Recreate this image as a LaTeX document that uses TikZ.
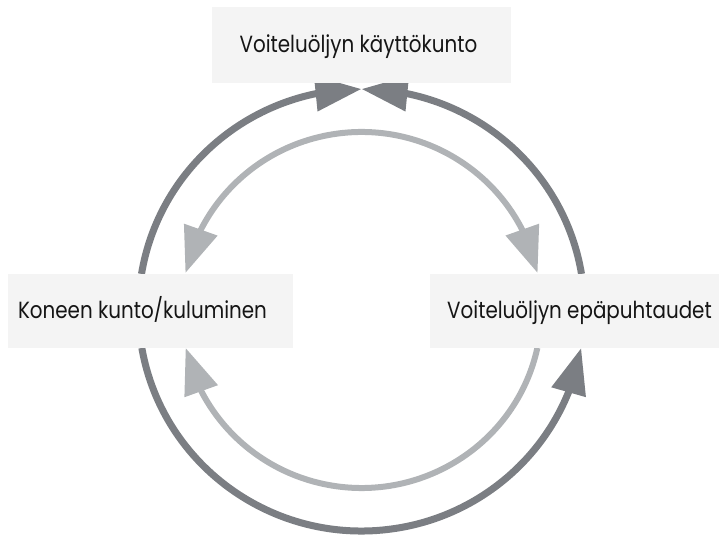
\documentclass[tikz,border=0pt]{standalone}
\usepackage{fontspec}
\newfontfamily\lblfont[FakeStretch=0.85]{Poppins}
\usetikzlibrary{arrows.meta,bending,calc}

\definecolor{ringdark}{HTML}{7B7E83}
\definecolor{ringlight}{HTML}{B0B3B6}
\definecolor{boxfill}{HTML}{F4F4F4}
\definecolor{inktext}{HTML}{151515}

\tikzset{
  tipA/.tip={Triangle[length=46pt,width=34pt,flex]},
  outerring/.style={draw=ringdark,line width=7pt},
  innerring/.style={draw=ringlight,line width=6pt},
  labelbox/.style={fill=boxfill,draw=none,inner sep=0pt},
  labeltext/.style={anchor=base,text=inktext,font=\lblfont\fontsize{23.4pt}{27pt}\selectfont,inner sep=0pt}
}

\begin{document}
\begin{tikzpicture}[x=1pt,y=1pt]
  \useasboundingbox (0,0) rectangle (719,536);

  % common centre of both rings
  \coordinate (c) at (361.5,226);

  % outer ring: two arcs meeting at the top, one along the bottom
  \draw[outerring,-tipA] (c) ++(170.6:223 and 221)
      arc[start angle=170.6,end angle=90,x radius=223,y radius=221];
  \draw[outerring,-tipA] (c) ++(9.4:223 and 221)
      arc[start angle=9.4,end angle=90,x radius=223,y radius=221];
  \draw[outerring,-tipA] (c) ++(189.9:223 and 221)
      arc[start angle=189.9,end angle=350.1,x radius=223,y radius=221];

  % inner ring: double-headed upper arc, single-headed lower arc
  \draw[innerring,tipA-tipA] (c) ++(12:180 and 178)
      arc[start angle=12,end angle=168,x radius=180,y radius=178];
  \draw[innerring,-tipA] (c) ++(347.7:180 and 178)
      arc[start angle=347.7,end angle=192.3,x radius=180,y radius=178];

  % label panels
  \node[labelbox,minimum width=299pt,minimum height=76pt] (topbox) at (361.5,491) {};
  \node[labelbox,minimum width=285pt,minimum height=74pt] (leftbox) at (150.5,225) {};
  \node[labelbox,minimum width=289pt,minimum height=74pt] (rightbox) at (574.5,225) {};

  \node[labeltext] (toplabel) at (358.5,483) {Voiteluöljyn käyttökunto};
  \node[labeltext] (leftlabel) at (142.5,218) {Koneen kunto/kuluminen};
  \node[labeltext] (rightlabel) at (579.5,218) {Voiteluöljyn epäpuhtaudet};
\end{tikzpicture}
\end{document}
